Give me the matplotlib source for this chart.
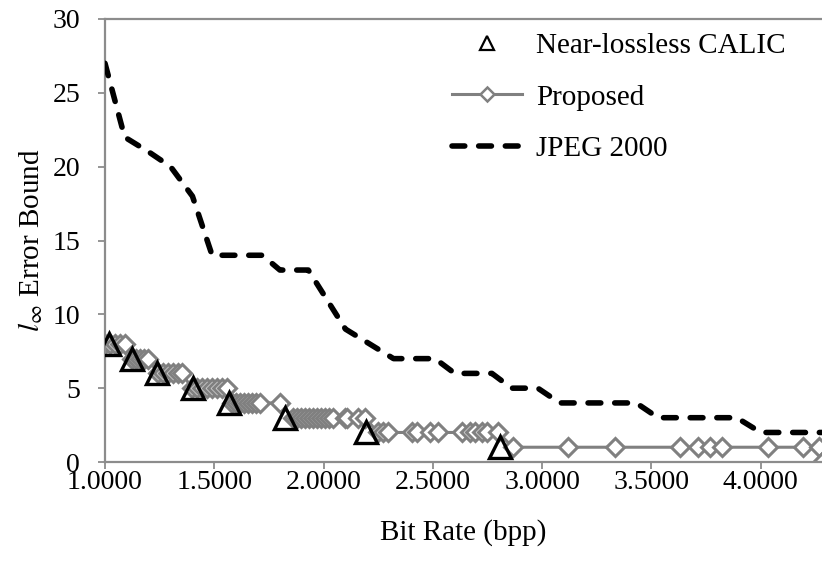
import matplotlib
matplotlib.use("Agg")
import matplotlib.pyplot as plt
from matplotlib.lines import Line2D
from matplotlib.ticker import FormatStrFormatter, MultipleLocator

plt.rcParams['font.family'] = ['Liberation Serif', 'DejaVu Serif']
plt.rcParams['mathtext.fontset'] = 'stix'

# ---- data ----
calic_x = [1.02, 1.124, 1.238, 1.403, 1.567, 1.823, 2.194, 2.807]
calic_y = [8, 7, 6, 5, 4, 3, 2, 1]

prop_x = [1.000, 1.023, 1.046, 1.069, 1.092,
          1.124, 1.142, 1.160, 1.178, 1.197,
          1.242, 1.265, 1.288, 1.311, 1.334, 1.352,
          1.398, 1.421, 1.444, 1.467, 1.489, 1.512, 1.535, 1.558,
          1.581, 1.599, 1.618, 1.636, 1.654, 1.672, 1.691, 1.709, 1.801,
          1.860, 1.878, 1.897, 1.915, 1.933, 1.951, 1.970, 1.988, 2.006,
          2.025, 2.043, 2.098, 2.107, 2.157, 2.189,
          2.249, 2.272, 2.295, 2.404, 2.427, 2.487, 2.523, 2.633, 2.670,
          2.692, 2.724, 2.747, 2.798,
          2.866, 3.118, 3.333, 3.630, 3.713, 3.768, 3.822, 4.033, 4.193, 4.265,
          4.280]
prop_y = [8, 8, 8, 8, 8,
          7, 7, 7, 7, 7,
          6, 6, 6, 6, 6, 6,
          5, 5, 5, 5, 5, 5, 5, 5,
          4, 4, 4, 4, 4, 4, 4, 4, 4,
          3, 3, 3, 3, 3, 3, 3, 3, 3,
          3, 3, 3, 3, 3, 3,
          2, 2, 2, 2, 2, 2, 2, 2, 2,
          2, 2, 2, 2,
          1, 1, 1, 1, 1, 1, 1, 1, 1, 1,
          0]

jpeg_x = [1.00, 1.09, 1.20, 1.30, 1.40, 1.49, 1.72, 1.80, 1.93, 2.10, 2.21,
          2.32, 2.51, 2.60, 2.77, 2.86, 2.98, 3.08, 3.43, 3.53, 3.89, 4.00, 4.28]
jpeg_y = [27, 22, 21, 20, 18, 14, 14, 13, 13, 9, 8,
          7, 7, 6, 6, 5, 5, 4, 4, 3, 3, 2, 2]

labels = ["Near-lossless CALIC", "Proposed", "JPEG 2000"]

W, H = 822, 563
fig = plt.figure(figsize=(W / 100, H / 100), dpi=100)
ax = fig.add_axes([105 / W, 1 - 462 / H, (W - 105) / W, (462 - 19) / H])

gray = "#808080"
axis_gray = "#8c8c8c"

ax.plot(jpeg_x, jpeg_y, color="black", lw=4.0, linestyle=(0, (2.3, 2.5)),
        dash_capstyle="round", solid_joinstyle="round", zorder=3)
ax.plot(prop_x, prop_y, color=gray, lw=2.2, marker="D", ms=9,
        mfc="white", mec=gray, mew=2.2, zorder=2)
ax.plot(calic_x, calic_y, linestyle="none", marker="^", ms=16,
        mfc="none", mec="black", mew=2.4, zorder=4)

ax.set_xlim(1.0, 4.28)
ax.set_ylim(0, 30)
ax.xaxis.set_major_locator(MultipleLocator(0.5))
ax.yaxis.set_major_locator(MultipleLocator(5))
ax.xaxis.set_major_formatter(FormatStrFormatter("%.4f"))

for s in ["left", "bottom", "top"]:
    ax.spines[s].set_color(axis_gray)
    ax.spines[s].set_linewidth(1.6)
ax.spines["right"].set_visible(False)
ax.tick_params(axis="both", direction="out", length=5, width=1.3,
               color=axis_gray, labelsize=20, labelcolor="black")
ax.tick_params(axis="y", pad=13)
ax.tick_params(axis="x", pad=0.5)

ax.set_xlabel("Bit Rate (bpp)", fontsize=21)
ax.set_ylabel(r"$l_{\infty}$ Error Bound", fontsize=21)
ax.yaxis.set_label_coords(-0.084, 0.5)
ax.xaxis.set_label_coords(0.5, -0.128)

handles = [
    Line2D([], [], linestyle="none", marker="^", ms=10, mfc="none",
           mec="black", mew=1.6),
    Line2D([], [], color=gray, lw=2.2, marker="D", ms=7, mfc="white",
           mec=gray, mew=1.8),
    Line2D([], [], color="black", lw=4.0, linestyle=(0, (2.3, 2.5)),
           dash_capstyle="round"),
]
fig.legend(handles, labels, loc="upper left", bbox_to_anchor=(440 / W, 1 - 21 / H),
           frameon=False, fontsize=21, handlelength=2.4, handletextpad=0.5,
           labelspacing=0.86, borderaxespad=0)

fig.savefig("out.png", dpi=100)
